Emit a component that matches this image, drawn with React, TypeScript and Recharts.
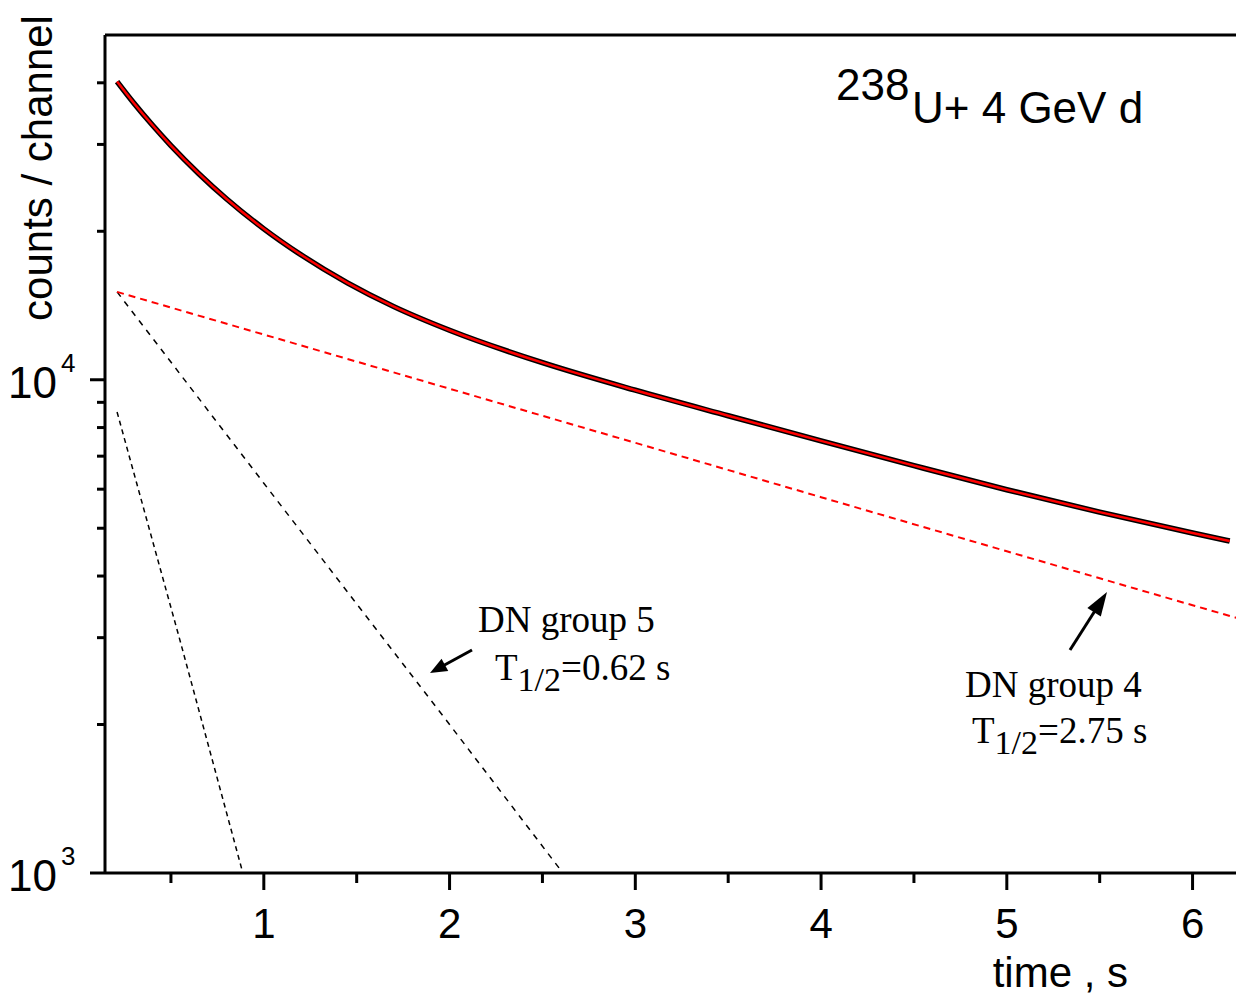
import { Line, LineChart, XAxis, YAxis } from 'recharts'

const timeS = [0.21, 0.3, 0.4, 0.5, 0.65, 0.8, 1.0, 1.2, 1.45, 1.7, 2.0, 2.5, 3.0, 3.5, 4.0, 4.5, 5.0, 5.5, 6.0, 6.2]
const measuredCounts = [40230, 36400, 32840, 29840, 26170, 23250, 20230, 17920, 15720, 14070, 12600, 10830, 9524, 8453, 7517, 6697, 5985, 5390, 4890, 4710]
const fitCounts = [40230, 36400, 32840, 29840, 26170, 23250, 20230, 17920, 15720, 14070, 12600, 10830, 9524, 8453, 7517, 6697, 5985, 5390, 4890, 4710]

// delayed neutron group components
const group4Time = [0.21, 1, 2, 3, 4, 5, 6, 6.25]
const group4Counts = [15070, 12350, 9590, 7450, 5780, 4490, 3490, 3280]
const group5Time = [0.21, 1, 2, 2.61]
const group5Counts = [15070, 6170, 2000, 1000]
const group6Time = [0.21, 0.55, 0.887]
const group6Counts = [8600, 2950, 1000]

const xTicks = [0.5, 1, 1.5, 2, 2.5, 3, 3.5, 4, 4.5, 5, 5.5, 6]
const yTicks = [1000, 2000, 3000, 4000, 5000, 6000, 7000, 8000, 9000, 10000, 20000, 30000, 40000]
const yMajorLabels: Record<number, string> = { 1000: '3', 10000: '4' }

const toRows = (xs: number[], ys: number[]) => xs.map((t, i) => ({ t, v: ys[i] }))

const measuredData = toRows(timeS, measuredCounts)
const fitData = toRows(timeS, fitCounts)
const group4Data = toRows(group4Time, group4Counts)
const group5Data = toRows(group5Time, group5Counts)
const group6Data = toRows(group6Time, group6Counts)

const SANS = '"Liberation Sans", Arial, sans-serif'
const SERIF = '"Liberation Serif", "Times New Roman", serif'

function BottomTick(props: any) {
  const { x, y, payload } = props
  const major = Number.isInteger(payload.value)
  return (
    <g>
      <line x1={x} y1={y} x2={x} y2={y + (major ? 17 : 10)} stroke='#000' strokeWidth={3} />
      {major && (
        <text x={x} y={y + 65} textAnchor='middle' fontSize={42} fontFamily={SANS} fill='#000'>
          {payload.value}
        </text>
      )}
    </g>
  )
}

function TopTick(props: any) {
  const { x, y, payload } = props
  const major = Number.isInteger(payload.value)
  return <line x1={x} y1={y} x2={x} y2={y - (major ? 17 : 9)} stroke='#000' strokeWidth={3} />
}

function LeftTick(props: any) {
  const { x, y, payload } = props
  const exp = yMajorLabels[payload.value]
  return (
    <g>
      <line x1={x - (exp ? 15 : 8)} y1={y} x2={x} y2={y} stroke='#000' strokeWidth={3} />
      {exp && (
        <g fontFamily={SANS} fill='#000'>
          <text x={57} y={y + 18} textAnchor='end' fontSize={44}>10</text>
          <text x={61} y={y - 8} fontSize={26}>{exp}</text>
        </g>
      )}
    </g>
  )
}

function Arrow({ x1, y1, x2, y2, head, half }: { x1: number; y1: number; x2: number; y2: number; head: number; half: number }) {
  const dx = x2 - x1
  const dy = y2 - y1
  const len = Math.hypot(dx, dy)
  const ux = dx / len
  const uy = dy / len
  const bx = x2 - ux * head
  const by = y2 - uy * head
  const pts = `${x2},${y2} ${bx - uy * half},${by + ux * half} ${bx + uy * half},${by - ux * half}`
  return (
    <g>
      <line x1={x1} y1={y1} x2={bx + ux * 2} y2={by + uy * 2} stroke='#000' strokeWidth={3} />
      <polygon points={pts} fill='#000' />
    </g>
  )
}

export default function App() {
  return (
    <div style={{ position: 'absolute', left: 0, top: 0, width: 1236, height: 999, overflow: 'hidden', background: '#fff' }}>
      <LineChart width={1260} height={999} margin={{ top: 0, right: 21, bottom: 0, left: 0 }}>
        <XAxis
          dataKey='t'
          type='number'
          domain={[0.145, 6.25]}
          allowDataOverflow
          ticks={xTicks}
          interval={0}
          height={126}
          tickSize={0}
          tickMargin={0}
          tickLine={false}
          axisLine={{ stroke: '#000', strokeWidth: 3 }}
          tick={BottomTick}
        />
        <XAxis
          xAxisId='top'
          orientation='top'
          type='number'
          domain={[0.145, 6.25]}
          allowDataOverflow
          ticks={xTicks}
          interval={0}
          height={35}
          tickSize={0}
          tickMargin={0}
          tickLine={false}
          axisLine={{ stroke: '#000', strokeWidth: 3 }}
          tick={TopTick}
        />
        <YAxis
          type='number'
          scale='log'
          domain={[1000, 50000]}
          allowDataOverflow
          ticks={yTicks}
          interval={0}
          width={105}
          tickSize={0}
          tickMargin={0}
          tickLine={false}
          axisLine={{ stroke: '#000', strokeWidth: 3 }}
          tick={LeftTick}
        />
        <Line data={group6Data} dataKey='v' type='linear' stroke='#000' strokeWidth={1.5} strokeDasharray='5 4' dot={false} isAnimationActive={false} />
        <Line data={group5Data} dataKey='v' type='linear' stroke='#000' strokeWidth={1.5} strokeDasharray='6 6' dot={false} isAnimationActive={false} />
        <Line data={group4Data} dataKey='v' type='linear' stroke='#ff0000' strokeWidth={2} strokeDasharray='7 5' dot={false} isAnimationActive={false} />
        <Line data={measuredData} dataKey='v' type='monotone' stroke='#000' strokeWidth={5.5} dot={false} isAnimationActive={false} />
        <Line data={fitData} dataKey='v' type='monotone' stroke='#ff0000' strokeWidth={2.5} dot={false} isAnimationActive={false} />
      </LineChart>
      <svg width={1236} height={999} style={{ position: 'absolute', left: 0, top: 0, pointerEvents: 'none' }}>
        <text x={52} y={168} transform='rotate(-90 52 168)' textAnchor='middle' fontSize={42} fontFamily={SANS} fill='#000'>
          counts / channel
        </text>
        <text x={1128} y={987} textAnchor='end' fontSize={42} fontFamily={SANS} fill='#000'>
          time , s
        </text>
        <g fontFamily={SANS} fill='#000' fontSize={44}>
          <text x={836} y={100}>238</text>
          <text x={912} y={123}>U+ 4 GeV d</text>
        </g>
        <g fontFamily={SERIF} fill='#000'>
          <text x={478} y={632} fontSize={37}>DN group 5</text>
          <text x={495} y={680} fontSize={37}>
            T<tspan dy={11} fontSize={34}>1/2</tspan>
            <tspan dy={-11}>=0.62 s</tspan>
          </text>
          <text x={965} y={697} fontSize={37}>DN group 4</text>
          <text x={972} y={743} fontSize={37}>
            T<tspan dy={11} fontSize={34}>1/2</tspan>
            <tspan dy={-11}>=2.75 s</tspan>
          </text>
        </g>
        <Arrow x1={472} y1={650} x2={430} y2={673} head={17} half={7} />
        <Arrow x1={1070} y1={650} x2={1107} y2={592} head={24} half={8} />
      </svg>
    </div>
  )
}
